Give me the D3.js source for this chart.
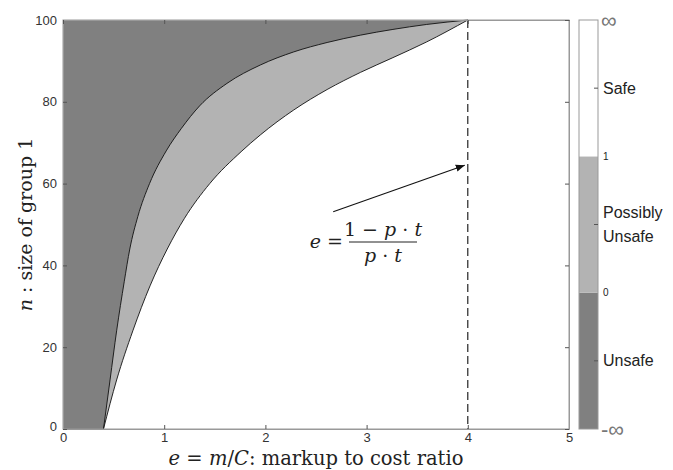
<!DOCTYPE html>
<html lang="en">
  <head>
    <meta http-equiv="Content-Type" content="text/html; charset=utf-8"/>
    <style>
body { margin: 0; background: #fff; }
.tick text {
  font-family: "Liberation Sans", Helvetica, Arial, sans-serif;
  font-size: 13px;
  fill: #333;
}
.math {
  font-family: "DejaVu Serif", "Liberation Serif", serif;
  fill: #222;
}
.cblabel {
  font-family: "Liberation Sans", Helvetica, Arial, sans-serif;
}
    </style>
  </head>
  <body>
    <svg width="673" height="470"></svg>
    <script src="https://d3js.org/d3.v7.min.js"></script>
    <script>

// boundary between "Unsafe" and "Possibly Unsafe" (e, n)
var outerE = [0.40, 0.465, 0.53, 0.605, 0.66, 0.74, 0.855, 1.02, 1.17, 1.35, 1.62, 1.95, 2.28, 2.61, 2.94, 3.26, 3.59, 4.00];
var outerN = [0, 12, 24, 36, 44, 52, 60, 68, 73.5, 79, 84.5, 89, 92.2, 94.5, 96.3, 97.7, 98.9, 100];
// boundary between "Possibly Unsafe" and "Safe"
var innerE = [0.40, 0.53, 0.69, 0.86, 1.03, 1.20, 1.45, 1.76, 1.95, 2.28, 2.61, 2.94, 3.26, 3.59, 4.00];
var innerN = [0, 12, 24, 35, 44, 51.5, 60, 67.8, 71.9, 78, 83, 87.2, 90.8, 94.6, 100];

var xTicks = [0, 1, 2, 3, 4, 5];
var yTicks = [0, 20, 40, 60, 80, 100];
var limitE = 4;                         // dashed line e = (1 - p t)/(p t)
var arrowFrom = [2.67, 53.1], arrowTo = [3.97, 64.5];

var cbCategories = ["Unsafe", "Possibly Unsafe", "Safe"];
var cbColors = ["#808080", "#b3b3b3", "#ffffff"];
var cbBounds = ["-\u221e", "0", "1", "\u221e"];

var svg = d3.select("svg");
var x = d3.scaleLinear().domain([0, 5]).range([63, 569]);
var y = d3.scaleLinear().domain([0, 100]).range([429, 20]);

var outer = outerE.map(function(e, i) { return [e, outerN[i]]; });
var inner = innerE.map(function(e, i) { return [e, innerN[i]]; });

var curve = d3.line()
  .x(function(d) { return x(d[0]); })
  .y(function(d) { return y(d[1]); })
  .curve(d3.curveMonotoneX);

// regions
svg.append("rect")
  .attr("x", x(0)).attr("y", y(100))
  .attr("width", x(5) - x(0)).attr("height", y(0) - y(100))
  .attr("fill", cbColors[0]);

function region(pts, color) {
  svg.append("path")
    .attr("d", curve(pts) + "L" + x(5) + "," + y(100) + "L" + x(5) + "," + y(0) + "Z")
    .attr("fill", color);
}
region(outer, cbColors[1]);
region(inner, cbColors[2]);

[outer, inner].forEach(function(pts) {
  svg.append("path").attr("d", curve(pts))
    .attr("fill", "none").attr("stroke", "#111").attr("stroke-width", 0.9);
});

// dashed limit
svg.append("line")
  .attr("x1", x(limitE)).attr("x2", x(limitE))
  .attr("y1", y(100)).attr("y2", y(0))
  .attr("stroke", "#111").attr("stroke-width", 1.1)
  .attr("stroke-dasharray", "8,4");

// frame + ticks
svg.append("rect")
  .attr("x", x(0)).attr("y", y(100))
  .attr("width", x(5) - x(0)).attr("height", y(0) - y(100))
  .attr("fill", "none").attr("stroke", "#999").attr("stroke-width", 1);

var fmt = d3.format("d");
var axB = svg.append("g").attr("transform", "translate(0," + y(0) + ")")
  .call(d3.axisBottom(x).tickValues(xTicks).tickFormat(fmt).tickSizeInner(-4).tickSizeOuter(0).tickPadding(4));
var axL = svg.append("g").attr("transform", "translate(" + x(0) + ",0)")
  .call(d3.axisLeft(y).tickValues(yTicks).tickFormat(fmt).tickSizeInner(-4).tickSizeOuter(0).tickPadding(6));
var axT = svg.append("g").attr("transform", "translate(0," + y(100) + ")")
  .call(d3.axisTop(x).tickValues(xTicks).tickSizeInner(-4).tickSizeOuter(0).tickFormat(""));
var axR = svg.append("g").attr("transform", "translate(" + x(5) + ",0)")
  .call(d3.axisRight(y).tickValues(yTicks).tickSizeInner(-4).tickSizeOuter(0).tickFormat(""));
[axB, axL, axT, axR].forEach(function(a) {
  a.select(".domain").attr("stroke", "#999");
  a.selectAll(".tick line").attr("stroke", "#555");
  a.selectAll(".tick text").attr("font-family", null).attr("font-size", null);
});
axL.selectAll(".tick text").filter(function(d) { return d === 0; }).attr("dy", "0.1em");
axB.selectAll(".tick text").attr("dy", "0.7em");

// arrow
svg.append("defs").append("marker")
  .attr("id", "ah").attr("viewBox", "0 0 10 10")
  .attr("refX", 10).attr("refY", 5)
  .attr("markerWidth", 9).attr("markerHeight", 9)
  .attr("markerUnits", "userSpaceOnUse")
  .attr("orient", "auto")
  .append("path").attr("d", "M0,1L10,5L0,9Z").attr("fill", "#111");
svg.append("line")
  .attr("x1", x(arrowFrom[0])).attr("y1", y(arrowFrom[1]))
  .attr("x2", x(arrowTo[0])).attr("y2", y(arrowTo[1]))
  .attr("stroke", "#111").attr("stroke-width", 1.1)
  .attr("marker-end", "url(#ah)");

// formula
var fx = 349, fy = 242;
var f = svg.append("g").attr("class", "math").style("font-size", "19px");
f.append("text").attr("x", fx - 6).attr("y", fy + 6).attr("text-anchor", "end")
  .html('<tspan font-style="italic">e</tspan> =');
f.append("line").attr("x1", fx).attr("x2", fx + 68).attr("y1", fy).attr("y2", fy)
  .attr("stroke", "#222").attr("stroke-width", 1);
f.append("text").attr("x", fx + 34).attr("y", fy - 6).attr("text-anchor", "middle")
  .html('1 \u2212 <tspan font-style="italic">p</tspan> \u00b7 <tspan font-style="italic">t</tspan>');
f.append("text").attr("x", fx + 34).attr("y", fy + 20).attr("text-anchor", "middle")
  .html('<tspan font-style="italic">p</tspan> \u00b7 <tspan font-style="italic">t</tspan>');

// axis labels
svg.append("text").attr("class", "math").style("font-size", "19.5px")
  .attr("x", x(2.5)).attr("y", 465).attr("text-anchor", "middle")
  .html('<tspan font-style="italic">e</tspan> = <tspan font-style="italic">m</tspan>/<tspan font-style="italic">C</tspan>: markup to cost ratio');
svg.append("text").attr("class", "math").style("font-size", "19px")
  .attr("transform", "translate(32," + y(50) + ") rotate(-90)")
  .attr("text-anchor", "middle")
  .html('<tspan font-style="italic">n</tspan> : size of group 1');

// colorbar
var cbX = 579, cbW = 19;
var cb = d3.scaleLinear().domain([0, 3]).range([429, 20]);
var cbg = svg.append("g");
cbg.selectAll("rect.seg").data(cbCategories).join("rect")
  .attr("class", "seg")
  .attr("x", cbX).attr("width", cbW)
  .attr("y", function(d, i) { return cb(i + 1); })
  .attr("height", function(d, i) { return cb(i) - cb(i + 1); })
  .attr("fill", function(d, i) { return cbColors[i]; });
cbg.append("rect").attr("x", cbX).attr("y", cb(3)).attr("width", cbW).attr("height", cb(0) - cb(3))
  .attr("fill", "none").attr("stroke", "#999");
cbg.selectAll("line.mid").data(cbCategories).join("line")
  .attr("class", "mid")
  .attr("x1", cbX + cbW - 4).attr("x2", cbX + cbW)
  .attr("y1", function(d, i) { return cb(i + 0.5); })
  .attr("y2", function(d, i) { return cb(i + 0.5); })
  .attr("stroke", "#555");
cbg.selectAll("text.cat").data(cbCategories).join("text")
  .attr("class", "cblabel")
  .style("font-size", "16px").style("fill", "#222")
  .attr("x", cbX + cbW + 5)
  .attr("y", function(d, i) { return cb(i + 0.5); })
  .each(function(d) {
    var words = d.split(" ");
    var t = d3.select(this);
    words.forEach(function(w, k) {
      t.append("tspan").attr("x", cbX + cbW + 5)
        .attr("dy", k === 0 ? (0.35 - (words.length - 1) * 0.75) + "em" : "1.5em")
        .text(w);
    });
  });
cbg.selectAll("text.bnd").data(cbBounds).join("text")
  .attr("class", "cblabel")
  .attr("x", function(d, i) { return cbX + cbW + (i === 0 || i === 3 ? 3 : 5); })
  .attr("y", function(d, i) { return cb(i); })
  .attr("dy", "0.35em")
  .style("font-size", function(d, i) { return i === 0 || i === 3 ? "22px" : "10px"; })
  .style("fill", function(d, i) { return i === 0 || i === 3 ? "#777" : "#222"; })
  .text(function(d) { return d; });

    </script>
  </body>
</html>
